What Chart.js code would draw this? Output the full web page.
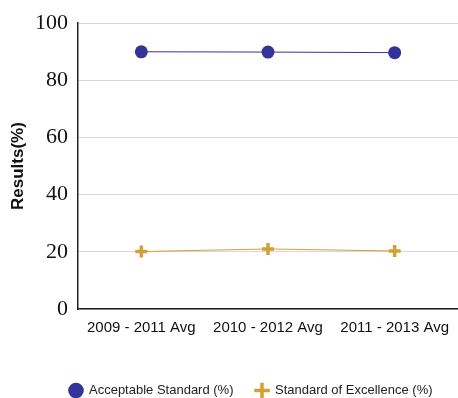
<!DOCTYPE html>
<html lang="en">
<head>
<meta charset="UTF-8">
<title>Results</title>
<style>
body { margin: 0; padding: 0; background: #fff; }
#wrap { width: 458px; height: 398px; }
</style>
</head>
<body>
<div id="wrap"><canvas id="resultsChart" width="458" height="398"></canvas></div>
<script src="https://cdn.jsdelivr.net/npm/chart.js"></script>
<script>
// data
const categories = ['2009 - 2011 Avg', '2010 - 2012 Avg', '2011 - 2013 Avg'];
const acceptable = [90.0, 89.9, 89.7];
const excellence = [20.1, 21.0, 20.3];
const yTicks = [0, 20, 40, 60, 80, 100];

const blue = '#333399';
const gold = '#d4a035';

const ctx = document.getElementById('resultsChart').getContext('2d');

// legend in the original sits a bit right of centre
const legendShift = {
    id: 'legendShift',
    afterLayout(chart) {
        chart.legend.left += 18;
        chart.legend.right += 18;
    }
};

new Chart(ctx, {
    type: 'line',
    data: {
        labels: categories,
        datasets: [
            {
                label: 'Acceptable Standard (%)',
                data: acceptable,
                borderColor: blue,
                backgroundColor: blue,
                borderWidth: 1,
                pointStyle: 'circle',
                pointRadius: 6.5,
                pointHoverRadius: 6.5,
                pointBorderWidth: 0,
                tension: 0
            },
            {
                label: 'Standard of Excellence (%)',
                data: excellence,
                borderColor: gold,
                backgroundColor: gold,
                borderWidth: 1,
                pointStyle: 'cross',
                pointRadius: 6,
                pointHoverRadius: 6,
                pointBorderWidth: 3.5,
                tension: 0
            }
        ]
    },
    options: {
        responsive: false,
        animation: false,
        layout: { autoPadding: false, padding: { left: 8, right: 0, top: 19, bottom: -9 } },
        plugins: {
            tooltip: { enabled: false },
            legend: {
                position: 'bottom',
                labels: {
                    usePointStyle: true,
                    boxHeight: 11,
                    padding: 22,
                    color: '#222',
                    font: { family: 'Liberation Sans, Arial, sans-serif', size: 13 }
                }
            }
        },
        scales: {
            x: {
                offset: true,
                grid: { display: false },
                border: { color: '#222', width: 1.5 },
                ticks: {
                    color: '#111',
                    padding: 2,
                    maxRotation: 0,
                    font: { family: 'Liberation Sans, Arial, sans-serif', size: 15 }
                },
                afterFit: function(scale) {
                    scale.height += 23;
                    scale.paddingLeft = 0;
                    scale.paddingRight = 0;
                }
            },
            y: {
                min: 0,
                max: 100,
                afterBuildTicks: function(axis) { axis.ticks = yTicks.map(v => ({ value: v })); },
                afterFit: function(scale) { scale.width = 70; },
                grid: { color: '#d8d8d8', drawTicks: false },
                border: { color: '#222', width: 1.5 },
                ticks: {
                    color: '#111',
                    padding: 10,
                    font: { family: 'Liberation Serif, Times New Roman, serif', size: 22 }
                },
                title: {
                    display: true,
                    text: 'Results(%)',
                    color: '#111',
                    font: { family: 'Liberation Sans, Arial, sans-serif', size: 17, weight: 'bold' },
                    padding: { top: 0, bottom: 6 }
                }
            }
        }
    },
    plugins: [legendShift]
});
</script>
</body>
</html>
